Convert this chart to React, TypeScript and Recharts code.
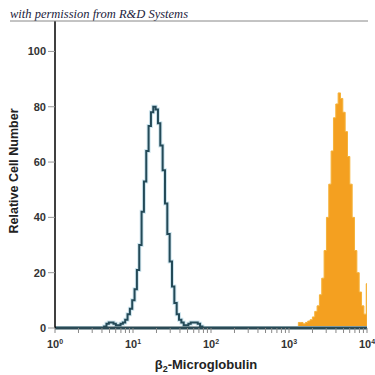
import React from "react";
import { ComposedChart, Area, Line, XAxis, YAxis } from "recharts";

// Isotype control histogram (log10 bins)
const isoStart = 0.6;
const binWidth = 0.03;
const isoCounts = [
  0, 0.5, 1.5, 2, 2, 1.5, 1, 1, 1.5, 2, 3, 5, 7, 10, 14, 21, 30, 42, 53, 64, 73,
  78, 80, 79, 74, 66, 57, 45, 34, 24, 15, 9, 5, 3, 2, 1, 1, 1.5, 2, 2, 2, 1.5,
  0.5, 0,
];
// beta2-Microglobulin stained histogram (log10 bins)
const stainStart = 3.09;
const stainCounts = [
  0, 2, 2, 1.5, 2, 2.5, 3, 4, 6, 8, 12, 18, 28, 40, 52, 64, 76, 81, 85, 83, 78,
  71, 62, 52, 40, 28, 20, 13, 8, 5, 16,
];
const majorTicks = [0, 1, 2, 3, 4];
const minorMultipliers = [2, 3, 4, 5, 6, 7, 8, 9];
const yTicks = [0, 20, 40, 60, 80, 100];
const yMax = 111;

const table: { x: number; iso: number; stain: number }[] = [];
table.push({ x: 0, iso: 0, stain: 0 });
isoCounts.forEach((v, i) =>
  table.push({ x: isoStart + i * binWidth, iso: v, stain: 0 })
);
stainCounts.forEach((v, i) =>
  table.push({ x: stainStart + i * binWidth, iso: 0, stain: v })
);
table.push({ x: 4, iso: 0, stain: 0 });

const xTicks: number[] = [];
majorTicks.forEach((d) => {
  xTicks.push(d);
  if (d < 4) minorMultipliers.forEach((m) => xTicks.push(d + Math.log10(m)));
});

const FONT = "'Liberation Sans Narrow', 'Arial Narrow', 'Liberation Sans', Arial, sans-serif";

const XTick = (props: any) => {
  const { x, y, payload } = props;
  const v = payload.value;
  const isMajor = Math.abs(v - Math.round(v)) < 1e-6;
  return (
    <g>
      <line x1={x} y1={y} x2={x} y2={y + 5} stroke="#888" strokeWidth={1} />
      {isMajor && (
        <text
          x={x}
          y={y + 20}
          textAnchor="middle"
          fontFamily={FONT}
          fontWeight="bold"
          fontSize={11}
          fill="#333"
        >
          10
          <tspan dy={-4} fontSize={7}>
            {Math.round(v)}
          </tspan>
        </text>
      )}
    </g>
  );
};

export default function App() {
  return (
    <div style={{ position: "absolute", left: 0, top: 0, width: 375, height: 375, background: "#fff" }}>
      <ComposedChart
        width={375}
        height={375}
        data={table}
        margin={{ top: 21, right: 8, bottom: 0, left: 0 }}
      >
        <Area
          type="stepAfter"
          dataKey="stain"
          stroke="#f5b23a"
          strokeWidth={1}
          fill="#F4A020"
          fillOpacity={1}
          isAnimationActive={false}
          dot={false}
          activeDot={false}
        />
        <Line
          type="stepAfter"
          dataKey="iso"
          stroke="#cfe6ef"
          strokeWidth={4}
          dot={false}
          activeDot={false}
          isAnimationActive={false}
        />
        <Line
          type="stepAfter"
          dataKey="iso"
          stroke="#244a58"
          strokeWidth={2}
          dot={false}
          activeDot={false}
          isAnimationActive={false}
        />
        <XAxis
          type="number"
          dataKey="x"
          domain={[0, 4]}
          ticks={xTicks}
          interval={0}
          height={47}
          tickSize={0}
          tickMargin={0}
          tickLine={false}
          tick={<XTick />}
          axisLine={{ stroke: "#2b4a55", strokeWidth: 3 }}
          allowDataOverflow
        />
        <YAxis
          type="number"
          domain={[0, yMax]}
          ticks={yTicks}
          width={55}
          tickSize={7}
          tickMargin={2}
          tickLine={{ stroke: "#999" }}
          axisLine={{ stroke: "#000", strokeWidth: 1.5 }}
          tick={{ fontFamily: FONT, fontWeight: "bold", fontSize: 11, fill: "#333" }}
          allowDataOverflow
        />
      </ComposedChart>
      <svg
        width={375}
        height={375}
        style={{ position: "absolute", left: 0, top: 0, pointerEvents: "none" }}
      >
        <text
          x={10}
          y={18}
          fontFamily="'Liberation Serif', 'DejaVu Serif', serif"
          fontStyle="italic"
          fontSize={12.5}
          fill="#1c1c3c"
        >
          with permission from R&amp;D Systems
        </text>
        <line x1={10} y1={21} x2={368} y2={21} stroke="#888" strokeWidth={1} />
        <text
          x={0}
          y={0}
          transform="translate(18,171) rotate(-90)"
          textAnchor="middle"
          fontFamily={FONT}
          fontWeight="bold"
          fontSize={12.5}
          fill="#222"
        >
          Relative Cell Number
        </text>
        <text
          x={206}
          y={369}
          textAnchor="middle"
          fontFamily={FONT}
          fontWeight="bold"
          fontSize={13}
          fill="#222"
        >
          β
          <tspan dy={3} fontSize={9}>2</tspan>
          <tspan dy={-3}>-Microglobulin</tspan>
        </text>
      </svg>
    </div>
  );
}
